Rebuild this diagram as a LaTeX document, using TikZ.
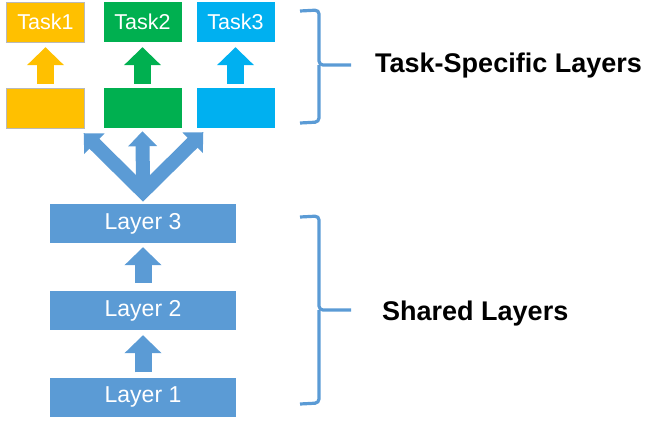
\documentclass[tikz,border=0pt]{standalone}
\usepackage{fontspec}
\setmainfont{Liberation Sans}
\usetikzlibrary{arrows.meta,positioning}
\definecolor{taskyellow}{HTML}{FFC000}
\definecolor{taskgreen}{HTML}{00B050}
\definecolor{taskblue}{HTML}{00B0F0}
\definecolor{layerblue}{HTML}{5B9BD5}
\tikzset{
  taskbox/.style={minimum width=78pt, minimum height=40pt, inner sep=0pt,
    text=white, font=\fontsize{21.5}{24}\selectfont},
  layerbox/.style={fill=layerblue, minimum width=186pt, minimum height=39pt,
    inner sep=0pt, text=white, font=\fontsize{23}{26}\selectfont},
  blockarrow/.style={line width=17pt, -{Triangle[width=36pt,length=18pt]}},
  forkarrow/.style={layerblue, line width=14pt, line join=miter,
    -{Triangle[width=28pt,length=15pt]}},
  bracket/.style={layerblue, line width=3.2pt, rounded corners=4pt},
  grouptext/.style={anchor=base west, inner sep=0pt,
    font=\bfseries\fontsize{27}{32}\selectfont}
}
\begin{document}
\begin{tikzpicture}[x=1pt,y=-1pt]
    \useasboundingbox (0,0) rectangle (660,426);
    % Task heads
    \foreach \n/\x/\c/\t in {1/45.5/taskyellow/Task1, 2/142.5/taskgreen/Task2, 3/235.5/taskblue/Task3} {
        \node[taskbox, fill=\c] (task\n) at (\x,22) {\t};
        \node[taskbox, fill=\c] (spec\n) at (\x,108) {};
        \draw[blockarrow, \c] ([yshift=4pt]spec\n.north) -- ([yshift=-5pt]task\n.south);
    }
    % thin edge on the yellow boxes
    \draw[gray!55, line width=0.6pt] (task1.south west) rectangle (task1.north east);
    \draw[gray!55, line width=0.6pt] (spec1.south west) rectangle (spec1.north east);
    % Shared layers
    \node[layerbox] (layer3) at (143,223.5) {Layer 3};
    \node[layerbox] (layer2) at (143,310.5) {Layer 2};
    \node[layerbox] (layer1) at (143,397) {Layer 1};
    \draw[blockarrow, layerblue] ([yshift=8pt]layer2.north) -- ([yshift=-4pt]layer3.south);
    \draw[blockarrow, layerblue] ([yshift=5pt]layer1.north) -- ([yshift=-5pt]layer2.south);
    % Fork to the tasks
    \coordinate (fork) at ([yshift=12pt]layer3.north);
    \draw[forkarrow, {Triangle[width=28pt,length=15pt]}-{Triangle[width=28pt,length=15pt]}]
        ([xshift=-1pt,yshift=-5pt]spec1.south east) -- (fork) -- ([xshift=7pt,yshift=-4pt]spec3.south west);
    \draw[forkarrow] (fork) -- ([yshift=-3pt]spec2.south);
    % Brackets
    \draw[bracket] (300,11) -- (319,10) -- (319,65) -- (351,65);
    \draw[bracket] (319,65) -- (319,122) -- (300,123);
    \draw[bracket] (300,217) -- (319,216) -- (319,310) -- (351,310);
    \draw[bracket] (319,310) -- (319,403) -- (300,404);
    \node[grouptext] (specname) at (375,72) {Task-Specific Layers};
    \node[grouptext] (sharedname) at (382,320) {Shared Layers};
\end{tikzpicture}
\end{document}
